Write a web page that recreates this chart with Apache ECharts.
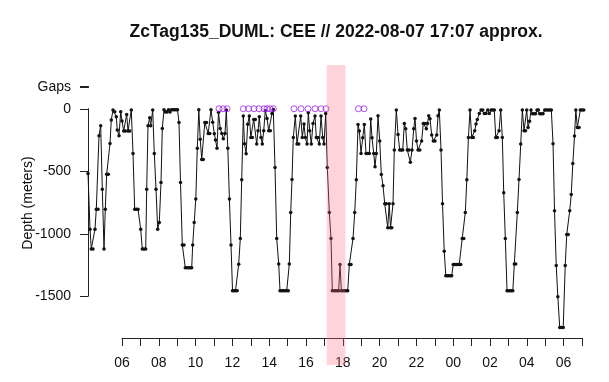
<!DOCTYPE html>
<html>
<head>
<meta charset="utf-8">
<script src="https://cdn.jsdelivr.net/npm/echarts@6/dist/echarts.min.js"></script>
<style>html,body{margin:0;padding:0;background:#fff}#c{width:609px;height:382px}</style>
</head>
<body>
<div id="c"></div>
<script>
// time in decimal hours since 2022-08-07 00:00 (values > 24 are the next day)
const timeHours = [
4.152,4.261,4.331,4.424,4.532,4.603,4.696,4.750,4.842,4.929,5.022,5.092,5.168,5.255,5.348,5.418,5.511,5.603,5.690,5.744,
5.837,5.929,6.000,6.092,6.179,6.255,6.326,6.418,6.505,6.598,6.690,6.777,6.870,7.016,7.103,7.196,7.288,7.342,7.413,7.505,
7.560,7.668,7.755,7.848,7.940,8.027,8.120,8.190,8.283,8.364,8.446,8.527,8.609,8.690,8.772,8.853,8.935,9.016,9.098,9.179,
9.277,9.370,9.440,9.533,9.625,9.712,9.788,9.842,9.924,10.011,10.092,10.174,10.250,10.332,10.418,10.500,10.592,10.685,10.772,10.837,
10.929,11.016,11.082,11.163,11.245,11.337,11.424,11.505,11.598,11.669,11.750,11.837,11.924,12.006,12.087,12.169,12.261,12.343,12.429,12.506,
12.593,12.658,12.745,12.832,12.919,13.000,13.082,13.158,13.245,13.321,13.392,13.462,13.555,13.625,13.701,13.788,13.881,13.973,14.060,14.152,
14.223,14.315,14.408,14.517,14.587,14.680,14.766,14.859,14.951,15.038,15.093,15.169,15.239,15.310,15.419,15.511,15.604,15.712,15.799,15.892,
15.962,16.055,16.125,16.201,16.288,16.381,16.489,16.560,16.653,16.723,16.816,16.908,16.979,17.071,17.158,17.267,17.359,17.430,17.522,17.609,
17.696,17.772,17.848,17.919,18.011,18.098,18.185,18.267,18.354,18.446,18.555,18.647,18.734,18.827,18.897,18.990,19.082,19.169,19.261,19.354,
19.441,19.517,19.587,19.680,19.750,19.821,19.914,20.006,20.093,20.185,20.278,20.365,20.441,20.522,20.593,20.664,20.729,20.799,20.908,21.001,
21.093,21.180,21.256,21.343,21.419,21.506,21.598,21.669,21.761,21.854,21.924,22.006,22.088,22.185,22.283,22.376,22.468,22.539,22.604,22.669,
22.740,22.832,22.919,23.011,23.104,23.175,23.245,23.338,23.419,23.512,23.598,23.680,23.761,23.843,23.919,24.001,24.082,24.164,24.245,24.327,
24.408,24.490,24.577,24.658,24.740,24.827,24.914,25.006,25.093,25.169,25.240,25.310,25.419,25.512,25.604,25.691,25.783,25.876,25.963,26.055,
26.147,26.234,26.311,26.398,26.490,26.582,26.669,26.745,26.832,26.925,27.006,27.088,27.169,27.240,27.321,27.397,27.484,27.577,27.669,27.756,
27.849,27.930,27.995,28.066,28.148,28.229,28.311,28.392,28.474,28.555,28.626,28.702,28.789,28.881,28.974,29.061,29.153,29.245,29.332,29.425,
29.506,29.599,29.686,29.789,29.876,29.979,30.088,30.170,30.251,30.332,30.414,30.501,30.593,30.664,30.745,30.838,30.909,31.001,31.093
];
const depthM = [
-517,-963,-1122,-1122,-963,-803,-803,-215,-136,-643,-1122,-803,-523,-523,-277,-90,-10,-24,-64,-170,
-215,-24,-98,-178,-178,-45,-178,-178,-10,-357,-803,-803,-803,-963,-1122,-1122,-1122,-643,-136,-72,
-136,-10,-357,-643,-963,-909,-589,-157,-8,-25,-25,-8,-25,-8,-8,-8,-8,-8,-110,-589,
-1090,-1090,-1272,-1272,-1272,-1272,-1272,-1090,-909,-722,-315,-8,-243,-405,-405,-110,-110,-197,-197,-7,
-108,-200,-250,-315,-27,-157,-197,-240,-197,-10,-315,-722,-1090,-1455,-1455,-1455,-1455,-1243,-1038,-567,
-57,-280,-360,-123,-57,-230,-230,-85,-85,-282,-176,-64,-229,-282,-176,-16,-77,-176,-176,-37,
-5,-469,-1037,-1242,-1455,-1455,-1455,-1455,-1455,-1455,-1242,-829,-565,-229,-58,-282,-282,-58,-229,-122,
-229,-282,-32,-176,-282,-117,-58,-229,-229,-282,-58,-229,-282,-37,-469,-829,-1037,-1455,-1455,-1455,
-1455,-1455,-1245,-1455,-1455,-1455,-1455,-1455,-1245,-1245,-1037,-829,-567,-125,-178,-357,-232,-125,-357,-357,
-357,-82,-232,-357,-464,-357,-56,-258,-525,-616,-760,-760,-952,-760,-952,-952,-760,-330,-10,-205,
-330,-330,-330,-117,-160,-330,-330,-427,-330,-160,-77,-258,-330,-330,-258,-117,-117,-160,-117,-56,
-80,-210,-258,-258,-210,-56,-10,-330,-760,-1140,-1335,-1335,-1335,-1335,-1335,-1245,-1245,-1245,-1245,-1245,
-1245,-1037,-1037,-829,-567,-230,-10,-229,-229,-176,-122,-85,-37,-10,-10,-37,-37,-10,-37,-10,
-10,-10,-229,-229,-176,-10,-229,-672,-1037,-1455,-1455,-1455,-1455,-1455,-1242,-1242,-829,-565,-282,-10,
-176,-176,-10,-150,-100,-10,-40,-40,-40,-10,-10,-40,-40,-40,-10,-10,-10,-10,-10,-280,
-816,-1253,-1504,-1750,-1750,-1750,-1253,-1005,-1005,-816,-685,-437,-217,-10,-150,-150,-10,-10,-10
];
// gap markers (hours) drawn on the surface line
const gapHours = [11.272,11.489,11.707,12.593,12.875,13.174,13.446,13.718,13.881,14.044,14.223,
                  15.348,15.729,16.109,16.489,16.816,17.087,18.854,19.153];
const gapDepth = gapHours.map(() => 0);
// highlighted period (hours)
const bandStart = 17.13, bandEnd = 18.14;
const yTicks = [-1500, -1000, -500, 0];
const gapsLabel = 'Gaps';
const xTickHours = {min: 6, max: 31};

const FONT = 'Liberation Sans, Arial, Helvetica, sans-serif';
const pad = h => { const v = ((h % 24) + 24) % 24; return (v < 10 ? '0' : '') + v; };

const chart = echarts.init(document.getElementById('c'), null, {renderer: 'canvas'});
chart.setOption({
  animation: false,
  backgroundColor: '#fff',
  textStyle: {fontFamily: FONT},
  grid: [
    {left: 88, top: 65, width: 496, height: 300, outerBoundsMode: 'none'},
    {left: 122, top: 337, width: 460, height: 1, outerBoundsMode: 'none'},
    {left: 88, top: 108.75, width: 10, height: 187.5, outerBoundsMode: 'none'},
    {left: 88, top: 86.5, width: 10, height: 1, outerBoundsMode: 'none'}
  ],
  xAxis: [
    {gridIndex: 0, type: 'value', min: 4.152, max: 31.108, show: false},
    {gridIndex: 1, type: 'value', min: xTickHours.min, max: xTickHours.max, interval: 1, position: 'bottom',
     axisLine: {show: true, lineStyle: {color: '#222', width: 1}},
     axisTick: {show: true, length: 8, lineStyle: {color: '#222'}},
     splitLine: {show: false},
     axisLabel: {margin: 18, fontSize: 14, color: '#111', fontFamily: FONT,
       formatter: v => (Math.round(v) % 2 === 0 ? pad(Math.round(v)) : '')}},
    {gridIndex: 2, type: 'value', show: false, min: 0, max: 1},
    {gridIndex: 3, type: 'value', show: false, min: 0, max: 1}
  ],
  yAxis: [
    {gridIndex: 0, type: 'value', min: -2050, max: 350, show: false},
    {gridIndex: 1, type: 'value', show: false, min: 0, max: 1},
    {gridIndex: 2, type: 'value', min: yTicks[0], max: yTicks[yTicks.length - 1], interval: 500,
     axisLine: {show: true, lineStyle: {color: '#222', width: 1}},
     axisTick: {show: true, length: 8, lineStyle: {color: '#222'}},
     axisLabel: {margin: 17, fontSize: 14, color: '#111', fontFamily: FONT, formatter: v => String(v)},
     splitLine: {show: false}},
    {gridIndex: 3, type: 'value', min: 0, max: 1, interval: 1,
     axisLine: {show: true, lineStyle: {color: '#222', width: 1}},
     axisTick: {show: true, length: 8, lineStyle: {color: '#222', width: 1}},
     axisLabel: {margin: 17, fontSize: 14, color: '#111', fontFamily: FONT,
       formatter: v => (v === 0 ? gapsLabel : '')},
     splitLine: {show: false}}
  ],
  graphic: [
    {type: 'text', x: 336, y: 32, style: {text: 'ZcTag135_DUML: CEE // 2022-08-07 17:07 approx.',
      font: 'bold 17.5px ' + FONT, fill: '#111', textAlign: 'center', textVerticalAlign: 'middle'}},
    {type: 'text', x: 28, y: 203, rotation: Math.PI / 2, style: {text: 'Depth (meters)',
      font: '14px ' + FONT, fill: '#111', textAlign: 'center', textVerticalAlign: 'middle'}}
  ],
  series: [
    {type: 'line', xAxisIndex: 0, yAxisIndex: 0, z: 2,
     data: timeHours.map((t, i) => [t, depthM[i]]),
     symbol: 'circle', symbolSize: 3.5, showSymbol: true,
     itemStyle: {color: '#111'}, lineStyle: {color: '#111', width: 1}},
    {type: 'scatter', xAxisIndex: 0, yAxisIndex: 0, z: 4,
     data: gapHours.map((t, i) => [t, gapDepth[i]]),
     symbol: 'circle', symbolSize: 6,
     itemStyle: {color: 'rgba(0,0,0,0)', borderColor: '#a020f0', borderWidth: 1}},
    {type: 'custom', xAxisIndex: 0, yAxisIndex: 0, z: 10, silent: true,
     data: [[bandStart, bandEnd]],
     renderItem: (params, api) => {
       const a = api.coord([api.value(0), 0]);
       const b = api.coord([api.value(1), 0]);
       const cs = params.coordSys;
       return {type: 'rect', shape: {x: a[0], y: cs.y, width: b[0] - a[0], height: cs.height},
               style: {fill: 'rgba(255,110,130,0.3)'}};
     }}
  ]
});
</script>
</body>
</html>
